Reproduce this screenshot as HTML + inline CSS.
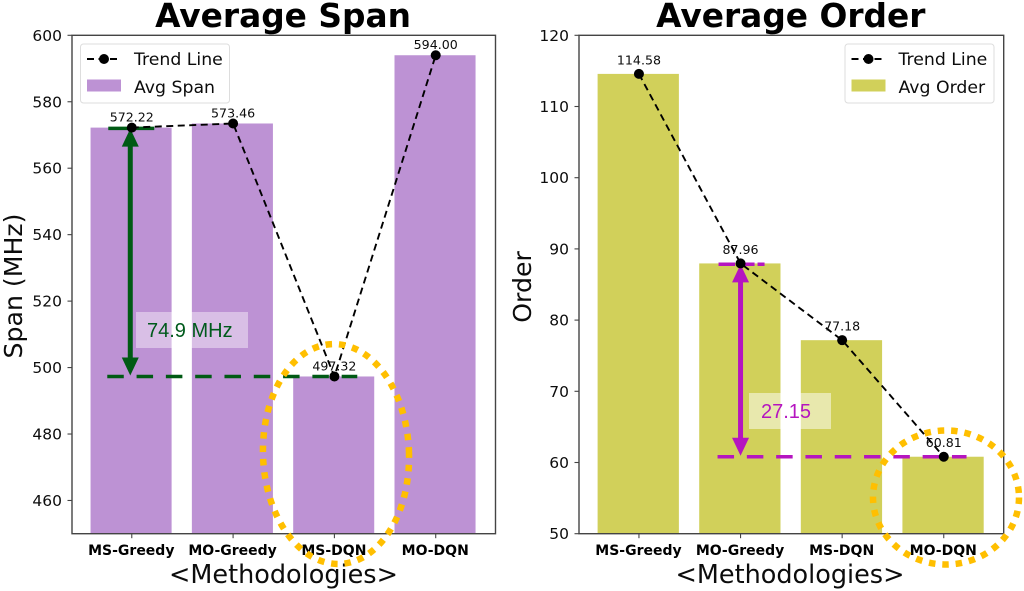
<!DOCTYPE html>
<html>
<head>
<meta charset="utf-8">
<title>Average Span and Average Order</title>
<style>
html,body{margin:0;padding:0;background:#fff;width:1024px;height:591px;overflow:hidden}
svg{display:block;filter:blur(0.35px)}
text{font-family:"DejaVu Sans","Liberation Sans",sans-serif;fill:#0c0c0c}
</style>
</head>
<body>
<svg id="fig" xmlns="http://www.w3.org/2000/svg" width="1024" height="591" viewBox="0 0 1024 591">
  <rect x="0" y="0" width="1024" height="591" fill="#fff"/>
  <g id="span-panel"></g>
  <g id="order-panel"></g>

  <text x="283" y="27" text-anchor="middle" font-size="32.8" font-weight="700" style="fill:#000">Average Span</text>
  <text x="790.8" y="27" text-anchor="middle" font-size="32.8" font-weight="700" style="fill:#000">Average Order</text>
  <text transform="translate(22,286) rotate(-90)" text-anchor="middle" font-size="25.2">Span (MHz)</text>
  <text transform="translate(531,287) rotate(-90)" text-anchor="middle" font-size="25.2">Order</text>
  <text x="283.5" y="583" text-anchor="middle" font-size="25.5">&lt;Methodologies&gt;</text>
  <text x="790" y="583" text-anchor="middle" font-size="25.5">&lt;Methodologies&gt;</text>

  <g>
    <rect x="80.5" y="44" width="149" height="59" rx="3" fill="#fff" fill-opacity="0.8" stroke="#ddd" stroke-width="1"/>
    <line x1="87" y1="59" x2="118" y2="59" stroke="#000" stroke-width="2" stroke-dasharray="7 4.5"/>
    <circle cx="104" cy="59" r="5" fill="#000"/>
    <text x="134" y="65" font-size="17.3">Trend Line</text>
    <rect x="87" y="79.5" width="34" height="12" fill="#bd92d4"/>
    <text x="134" y="93" font-size="17.3">Avg Span</text>
  </g>
  <g>
    <rect x="845" y="44" width="149" height="59" rx="3" fill="#fff" fill-opacity="0.8" stroke="#ddd" stroke-width="1"/>
    <line x1="851.5" y1="59" x2="882.5" y2="59" stroke="#000" stroke-width="2" stroke-dasharray="7 4.5"/>
    <circle cx="868.5" cy="59" r="5" fill="#000"/>
    <text x="898.5" y="65" font-size="17.3">Trend Line</text>
    <rect x="851.5" y="79.5" width="34" height="12" fill="#d1d05a"/>
    <text x="898.5" y="93" font-size="17.3">Avg Order</text>
  </g>

  <rect x="136" y="312" width="112" height="36" fill="#fff" fill-opacity="0.42"/>
  <text x="147" y="337" font-size="20" style="font-family:'Liberation Sans',sans-serif;fill:#005a1c">74.9 MHz</text>
  <rect x="749" y="393" width="82" height="36" fill="#fff" fill-opacity="0.5"/>
  <text x="761" y="418" font-size="20" style="font-family:'Liberation Sans',sans-serif;fill:#b515c0">27.15</text>

  <ellipse cx="336" cy="454" rx="73" ry="110" transform="rotate(-2 336 454)" fill="none" stroke="#ffbf00" stroke-width="6.5" stroke-dasharray="6.5 6.9"/>
  <ellipse cx="946" cy="497.5" rx="73" ry="67" fill="none" stroke="#ffbf00" stroke-width="6.5" stroke-dasharray="6.5 6.9"/>
</svg>

<script>
const categories = ['MS-Greedy', 'MO-Greedy', 'MS-DQN', 'MO-DQN'];
const spanValues = [572.22, 573.46, 497.32, 594.00];
const orderValues = [114.58, 87.96, 77.18, 60.81];
const spanTicks = [460, 480, 500, 520, 540, 560, 580, 600];
const orderTicks = [50, 60, 70, 80, 90, 100, 110, 120];
const spanLimits = [450, 600];
const orderLimits = [50, 120];
const spanGap = [572.22, 497.32];
const orderGap = [87.96, 60.81];

const NS = 'http://www.w3.org/2000/svg';
function make(tag, attrs, parent) {
  const el = document.createElementNS(NS, tag);
  for (const k in attrs) el.setAttribute(k, attrs[k]);
  parent.appendChild(el);
  return el;
}

function drawPanel(cfg) {
  const root = document.getElementById(cfg.id);
  const left = cfg.left, right = cfg.right, top = 35.3, bottom = 533.7;
  const xScale = i => left + (i + 0.59) / 4.18 * (right - left);
  const yScale = v => bottom - (v - cfg.limits[0]) / (cfg.limits[1] - cfg.limits[0]) * (bottom - top);
  const step = (right - left) / 4.18;

  cfg.values.forEach((v, i) => {
    const el = make('rect', {x: xScale(i) - 0.4 * step - 0.7, y: yScale(v), width: 0.8 * step, height: bottom - yScale(v), fill: cfg.color}, root);
    
    
  });

  const frame = make('rect', {x: left, y: top, width: right - left, height: bottom - top, fill: 'none', stroke: '#444', 'stroke-width': 1.4}, root);
  
  

  cfg.ticks.forEach(t => {
    const mark = make('line', {x1: left - 4.5, x2: left, y1: yScale(t), y2: yScale(t), stroke: '#444', 'stroke-width': 1.1}, root);
    
    
    const label = make('text', {x: left - 10, y: yScale(t) + 5.5, 'text-anchor': 'end', 'font-size': 15.5}, root);
    label.textContent = t;
    
    
  });

  categories.forEach((c, i) => {
    const mark = make('line', {x1: xScale(i), x2: xScale(i), y1: bottom, y2: bottom + 4.5, stroke: '#444', 'stroke-width': 1.1}, root);
    
    
    const label = make('text', {x: xScale(i) - 0.5, y: 555, 'text-anchor': 'middle', 'font-size': 14, 'font-weight': 700, style: 'fill:#000'}, root);
    label.textContent = c;
    
    
  });

  const y1 = yScale(cfg.gap[0]), y2 = yScale(cfg.gap[1]);
  const ax = xScale(cfg.gapIndex) + cfg.arrowShift;

  const topLine = make('line', {x1: ax - 22, x2: ax + 24, y1: y1 + 0.8, y2: y1 + 0.8, stroke: cfg.accent, 'stroke-width': 3.5, 'stroke-dasharray': cfg.topDash}, root);
  
  
  const lowLine = make('line', {x1: ax - 23, x2: ax + cfg.lowLength, y1: y2, y2: y2, stroke: cfg.accent, 'stroke-width': 3.5, 'stroke-dasharray': '16.5 12.8'}, root);
  
  
  const shaft = make('line', {x1: ax, x2: ax, y1: y1 + 15, y2: y2 - 15, stroke: cfg.accent, 'stroke-width': 5}, root);
  
  
  const upHead = make('polygon', {points: [ax, y1 + 1, ax - 8.5, y1 + 19, ax + 8.5, y1 + 19].join(','), fill: cfg.accent}, root);
  
  
  const downHead = make('polygon', {points: [ax, y2 - 1, ax - 8.5, y2 - 19, ax + 8.5, y2 - 19].join(','), fill: cfg.accent}, root);
  
  

  const trend = make('polyline', {points: cfg.values.map((v, i) => xScale(i) + ',' + yScale(v)).join(' '), fill: 'none', stroke: '#000', 'stroke-width': 1.9, 'stroke-dasharray': '7 4.5'}, root);
  
  

  cfg.values.forEach((v, i) => {
    const dot = make('circle', {cx: xScale(i), cy: yScale(v), r: 5, fill: '#000'}, root);
    
    
    const label = make('text', {x: xScale(i), y: yScale(v) - cfg.labelOffset, 'text-anchor': 'middle', 'font-size': 12.6}, root);
    label.textContent = v.toFixed(2);
    
    
  });
}

const spanPanel = {id: 'span-panel', left: 72, right: 495.5, values: spanValues, ticks: spanTicks, limits: spanLimits, gap: spanGap, gapIndex: 0, arrowShift: -1.5, lowLength: 227, color: '#bd92d4', accent: '#005a14', topDash: 'none', labelOffset: 6};
const orderPanel = {id: 'order-panel', left: 579, right: 1003.7, values: orderValues, ticks: orderTicks, limits: orderLimits, gap: orderGap, gapIndex: 1, arrowShift: 0, lowLength: 226, color: '#d1d05a', accent: '#b515c0', topDash: '16.5 3', labelOffset: 9.5};
drawPanel(spanPanel);
drawPanel(orderPanel);
</script>
</body>
</html>
